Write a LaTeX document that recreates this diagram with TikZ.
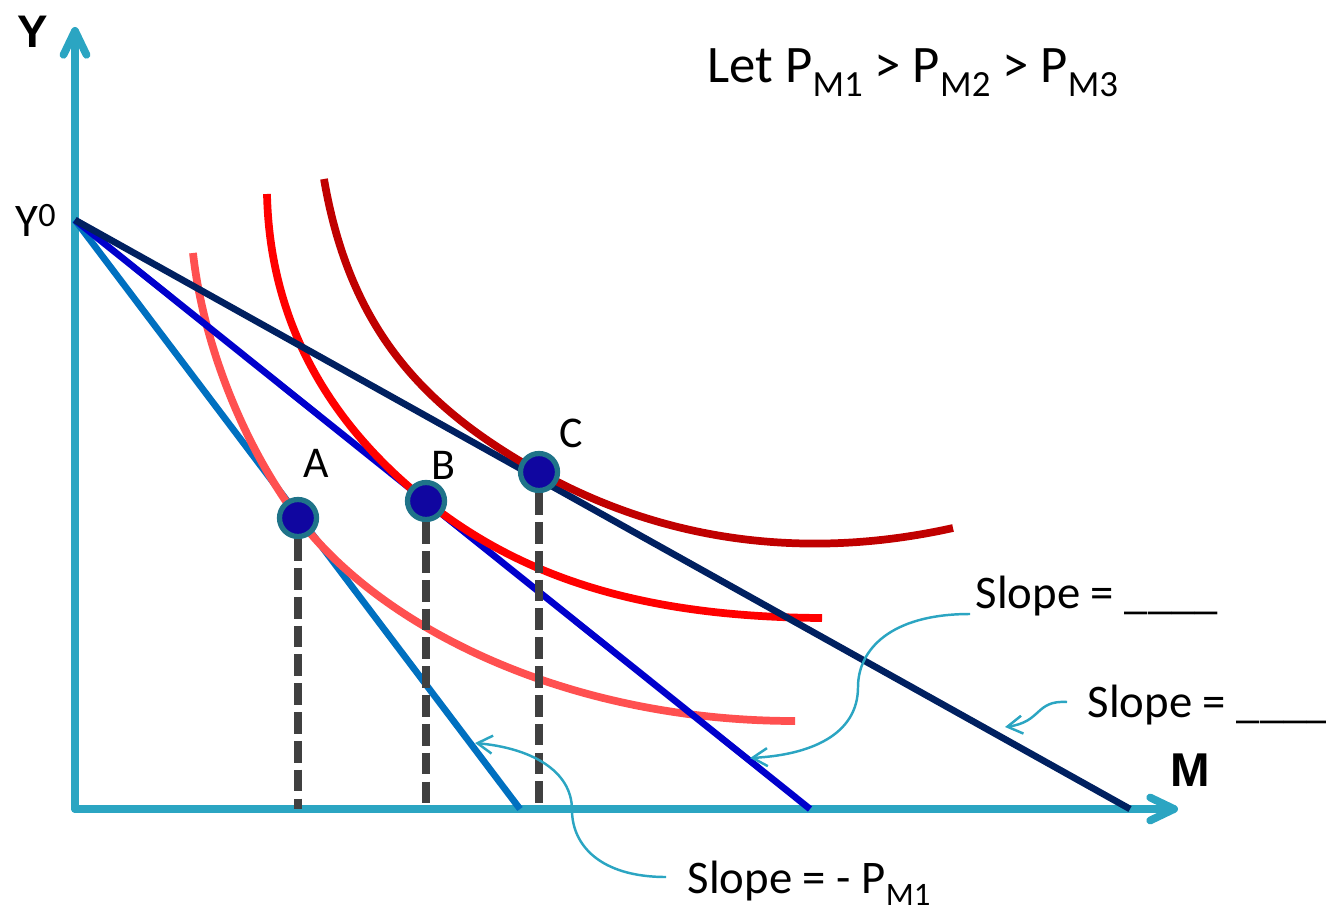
\documentclass[tikz,border=0pt]{standalone}
\usepackage{fontspec}
\setmainfont{Carlito}
\newfontfamily\axisfont{Liberation Sans}
\usetikzlibrary{arrows.meta}
\definecolor{axiscol}{RGB}{43, 165, 194}
\definecolor{budget1}{RGB}{0, 112, 192}
\definecolor{budget2}{RGB}{0, 0, 204}
\definecolor{budget3}{RGB}{0, 32, 96}
\definecolor{curve1}{RGB}{255, 80, 80}
\definecolor{curve2}{RGB}{255, 0, 0}
\definecolor{curve3}{RGB}{192, 0, 0}
\definecolor{dotfill}{RGB}{16, 6, 160}
\definecolor{dotrim}{RGB}{31, 115, 137}
\definecolor{dropcol}{RGB}{64, 64, 64}
\newcommand{\lowsub}[2]{\raisebox{#1}{\scalebox{0.7}{#2}}}

\begin{document}
\begin{tikzpicture}[
  axis/.style={axiscol, line width=2.2pt, line cap=round,
    -{Straight Barb[round, length=2.4mm, width=2.3mm]}},
  budget/.style={line width=1.9pt},
  indiff/.style={line width=2.2pt},
  dot/.style={circle, fill=dotfill, draw=dotrim, line width=1.5pt,
    minimum size=0.37cm, inner sep=0pt},
  drop/.style={dropcol, line width=2pt, dash pattern=on 6.2pt off 2pt},
  callout/.style={axiscol, line width=0.7pt,
    -{Straight Barb[length=1.5mm, width=1.8mm]}},
  txt/.style={inner sep=0pt, font=\fontsize{13.3}{16}\selectfont}]
  \useasboundingbox (0, 0) rectangle (13.26, 9.09);

  % axes
  \coordinate (O) at (0.75, 1.00);
  \coordinate (ytip) at (0.75, 8.82);
  \coordinate (xtip) at (11.78, 1.00);
  \draw[axis] (O) -- (ytip);
  \draw[axis] (O) -- (xtip);

  \node[inner sep=0pt, font=\axisfont\bfseries\fontsize{13}{15}\selectfont] (ylab) at (0.33, 8.77) {Y};
  \node[inner sep=0pt, font=\axisfont\bfseries\fontsize{13.5}{15}\selectfont] (mlab) at (11.90, 1.39) {M};
  \node[txt, anchor=base west] (yzero) at (0.15, 6.72) {Y\raisebox{0.22em}{\scalebox{0.73}{0}}};

  % tangency points
  \coordinate (Y0) at (0.75, 6.89);
  \coordinate (A) at (2.98, 3.91);
  \coordinate (B) at (4.26, 4.08);
  \coordinate (C) at (5.39, 4.37);

  % budget lines and indifference curves
  \draw[budget, budget1] (Y0) -- (5.20, 1.00);
  \draw[indiff, curve1] (1.93, 6.56) .. controls (2.03, 5.66) and (2.43, 4.64) .. (A)
    .. controls (3.83, 2.79) and (5.70, 1.88) .. (7.95, 1.88);

  \draw[budget, budget2] (Y0) -- (8.10, 1.00);
  \draw[indiff, curve2] (2.67, 7.15) .. controls (2.70, 5.79) and (3.36, 4.80) .. (B)
    .. controls (5.26, 3.28) and (6.50, 2.92) .. (8.22, 2.91);

  \draw[budget, budget3] (Y0) -- (11.30, 1.00);
  \draw[indiff, curve3] (3.24, 7.30) .. controls (3.50, 5.79) and (4.24, 5.01) .. (C)
    .. controls (6.59, 3.70) and (8.00, 3.47) .. (9.53, 3.81);

  % drop lines and points
  \foreach \p in {A, B, C} {
    \node[dot] (pt\p) at (\p) {};
    \draw[drop] (pt\p) -- (pt\p |- O);
  }

  \node[txt, font=\fontsize{12.5}{15}\selectfont] (labA) at (3.16, 4.46) {A};
  \node[txt, font=\fontsize{12.5}{15}\selectfont] (labB) at (4.43, 4.44) {B};
  \node[txt, font=\fontsize{12.5}{15}\selectfont] (labC) at (5.71, 4.76) {C};

  \node[txt, anchor=base west, font=\fontsize{15}{18}\selectfont] (given) at (7.07, 8.26)
    {Let P\lowsub{-0.26em}{M1} > P\lowsub{-0.26em}{M2} > P\lowsub{-0.26em}{M3}};

  % slope call-outs
  \node[txt, anchor=base west] (slope2) at (9.75, 3.01) {Slope = \_\_\_\_};
  \node[txt, anchor=base west] (slope3) at (10.87, 1.92) {Slope = \_\_\_\_};
  \node[txt, anchor=base west] (slope1) at (6.87, 0.16) {Slope = - P\lowsub{-0.26em}{M1}};

  \coordinate (on2) at (7.50, 1.51);
  \coordinate (on3) at (10.05, 1.82);
  \coordinate (on1) at (4.75, 1.66);

  \draw[callout] ([shift={(-0.05, -0.06)}]slope2.base west) .. controls (8.90, 2.95) and (8.58, 2.59) .. (8.58, 2.22)
    .. controls (8.58, 1.74) and (8.10, 1.54) .. (on2);
  \draw[callout] ([shift={(-0.20, 0.15)}]slope3.base west) .. controls (10.35, 2.09) and (10.42, 1.87) .. (on3);
  \draw[callout] ([shift={(-0.21, 0.16)}]slope1.base west) .. controls (6.00, 0.32) and (5.72, 0.64) .. (5.72, 0.99)
    .. controls (5.72, 1.39) and (5.30, 1.61) .. (on1);

\end{tikzpicture}
\end{document}
